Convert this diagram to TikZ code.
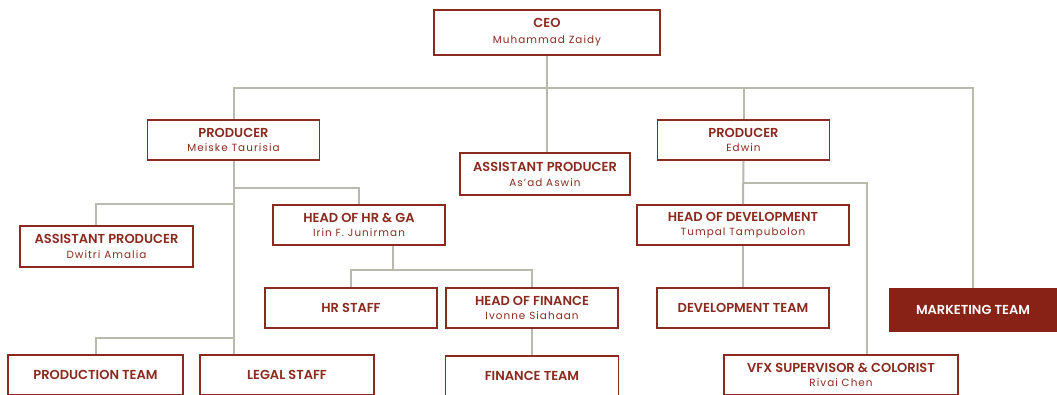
\documentclass[tikz,border=0pt]{standalone}
\usepackage{fontspec}
\setmainfont{Poppins}[BoldFont={* SemiBold}]
\usetikzlibrary{positioning}

\definecolor{boxred}{HTML}{8B2A1E}
\definecolor{mktred}{HTML}{882116}
\definecolor{linegray}{HTML}{B9B9AE}

\newcommand{\rolename}[1]{{\fontsize{13}{14}\selectfont\bfseries #1}}
\newcommand{\personname}[1]{{\fontsize{10.4}{13}\selectfont\addfontfeature{LetterSpace=10}#1}}

\begin{document}
\begin{tikzpicture}[
    x=1pt, y=-1pt,
    box/.style={rectangle, draw=boxred, line width=1.8pt, fill=white, text=boxred,
        minimum width=172pt, minimum height=40pt, align=center, inner sep=2pt},
    filledbox/.style={box, fill=mktred, draw=mktred, text=white},
    conn/.style={draw=linegray, line width=2pt},
]
    \useasboundingbox (0,0) rectangle (1057,394);

    % Top
    \node[box, minimum width=226pt, minimum height=45pt] (ceo) at (547,32.5) {\rolename{CEO}\\[4pt]\personname{Muhammad Zaidy}};

    % Second row
    \node[box] (prod1) at (233.5,140) {\rolename{PRODUCER}\\[2pt]\personname{Meiske Taurisia}};
    \node[box, minimum width=170pt, minimum height=42pt] (asst2) at (545,174) {\rolename{ASSISTANT PRODUCER}\\[3pt]\personname{As'ad Aswin}};
    \node[box] (prod2) at (743.5,140) {\rolename{PRODUCER}\\[2pt]\personname{Edwin}};
    \node[filledbox, minimum width=167pt, minimum height=42pt] (mkt) at (973,310) {\rolename{MARKETING TEAM}};

    % Under Meiske Taurisia
    \node[box, minimum width=173pt, minimum height=41pt] (asst1) at (106.5,246.5) {\rolename{ASSISTANT PRODUCER}\\[3pt]\personname{Dwitri Amalia}};
    \node[box] (hrga) at (359,225) {\rolename{HEAD OF HR \& GA}\\[2pt]\personname{Irin F. Junirman}};
    \node[box] (hrstaff) at (351,308) {\rolename{HR STAFF}};
    \node[box] (hof) at (532,308) {\rolename{HEAD OF FINANCE}\\[2pt]\personname{Ivonne Siahaan}};
    \node[box, minimum width=175pt] (prodteam) at (95.5,375) {\rolename{PRODUCTION TEAM}};
    \node[box, minimum width=174pt] (legal) at (287,375) {\rolename{LEGAL STAFF}};
    \node[box, minimum width=173pt] (finteam) at (532,376) {\rolename{FINANCE TEAM}};

    % Under Edwin
    \node[box, minimum width=212pt] (hodev) at (743,225) {\rolename{HEAD OF DEVELOPMENT}\\[2pt]\personname{Tumpal Tampubolon}};
    \node[box] (devteam) at (743,308) {\rolename{DEVELOPMENT TEAM}};
    \node[box, minimum width=234pt] (vfx) at (841,375) {\rolename{VFX SUPERVISOR \& COLORIST}\\[2pt]\personname{Rivai Chen}};

    % Split points
    \coordinate (ceo_split) at (547,88);
    \coordinate (hr_split) at (233.5,188);
    \coordinate (ap_split) at (233.5,204);
    \coordinate (team_split) at (233.5,338);
    \coordinate (fin_split) at (393,270);
    \coordinate (vfx_split) at (743.5,183);
    \coordinate (vfx_drop) at (867,183);

    % Lines from CEO
    \draw[conn] (ceo.south) -- (ceo_split);
    \draw[conn] (ceo_split) -| (prod1.north);
    \draw[conn] (ceo_split) -- (ceo_split |- asst2.north);
    \draw[conn] (ceo_split) -| (prod2.north);
    \draw[conn] (ceo_split) -| (mkt.north);

    % Lines from Meiske Taurisia
    \draw[conn] (prod1.south) -- (prod1.south |- legal.north);
    \draw[conn] (hr_split) -| (hrga.north);
    \draw[conn] (ap_split) -| (prodteam.north |- asst1.north);
    \draw[conn] (team_split) -| (prodteam.north);

    % Lines from Irin F. Junirman
    \draw[conn] (fin_split |- hrga.south) -- (fin_split);
    \draw[conn] (hrstaff.north) |- (fin_split) -| (hof.north);
    \draw[conn] (hof.south) -- (finteam.north);

    % Lines from Edwin
    \draw[conn] (prod2.south) -- (hodev.north);
    \draw[conn] (vfx_split) -- (vfx_drop) -- (vfx_drop |- vfx.north);
    \draw[conn] (hodev.south) -- (devteam.north);

\end{tikzpicture}
\end{document}
